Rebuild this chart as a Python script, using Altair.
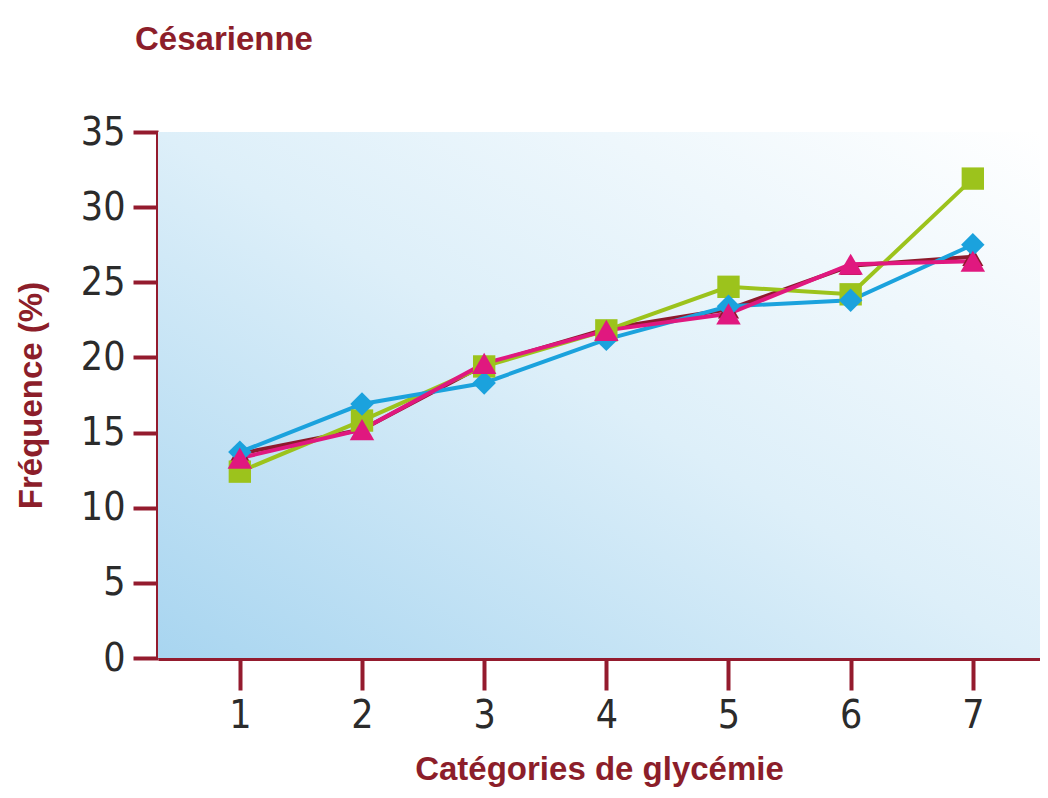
import altair as alt
import pandas as pd

categories = [1, 2, 3, 4, 5, 6, 7]
series_names = ["D", "A", "B", "C"]
serie_d = [13.6, 15.2, 19.5, 21.9, 23.2, 26.1, 26.7]   # dark red triangles (underneath)
serie_a = [12.4, 15.8, 19.4, 21.8, 24.7, 24.2, 31.9]   # lime squares
serie_b = [13.7, 16.9, 18.3, 21.2, 23.4, 23.8, 27.5]   # cyan diamonds
serie_c = [13.3, 15.2, 19.6, 21.8, 22.9, 26.2, 26.4]   # magenta triangles
y_ticks = [0, 5, 10, 15, 20, 25, 30, 35]
x_domain = [0.33, 7.55]
y_domain = [0, 35]

colors = ["#8E1A2C", "#9CC31C", "#1BA2DD", "#E0187F"]
shapes = ["triangle-up", "square", "diamond", "triangle-up"]
sizes = [450, 600, 780, 850]

rows = []
for order, (name, vals) in enumerate(zip(series_names, [serie_d, serie_a, serie_b, serie_c])):
    for c, v in zip(categories, vals):
        rows.append({"cat": c, "val": v, "serie": name, "ord": order})
df = pd.DataFrame(rows)

RED = "#941B2E"
TXT = "#8C1E2A"
LABEL_FONT = "DejaVu Sans Condensed, Liberation Sans, sans-serif"

x_scale = alt.Scale(domain=x_domain, nice=False, zero=False)
y_scale = alt.Scale(domain=y_domain, nice=False)

x_enc = alt.X("cat:Q", scale=x_scale,
              axis=alt.Axis(values=categories, title="Catégories de glycémie", grid=False,
                            format="d"))
y_enc = alt.Y("val:Q", scale=y_scale,
              axis=alt.Axis(values=y_ticks, title="Fréquence (%)", grid=False))
color_enc = alt.Color("serie:N", scale=alt.Scale(domain=series_names, range=colors), legend=None)

gradient = alt.LinearGradient(
    gradient="linear", x1=0, y1=1, x2=1, y2=0,
    stops=[alt.GradientStop(offset=0, color="#A8D5F0"),
           alt.GradientStop(offset=0.5, color="#DDEFF9"),
           alt.GradientStop(offset=1, color="#FFFFFF")],
)
background = alt.Chart(pd.DataFrame({"a": [0]})).mark_rect(color=gradient).encode(
    x=alt.X(datum=x_domain[0], scale=x_scale),
    x2=alt.X2(datum=x_domain[1]),
    y=alt.Y(datum=y_domain[0], scale=y_scale),
    y2=alt.Y2(datum=y_domain[1]),
)

lines = alt.Chart(df).mark_line(strokeWidth=4).encode(
    x=x_enc, y=y_enc, color=color_enc, order="cat:Q"
)
points = alt.Chart(df).mark_point(filled=True, opacity=1).encode(
    x=x_enc, y=y_enc, color=color_enc,
    shape=alt.Shape("serie:N", scale=alt.Scale(domain=series_names, range=shapes), legend=None),
    size=alt.Size("serie:N", scale=alt.Scale(domain=series_names, range=sizes), legend=None),
    order="ord:Q",
)

chart = alt.layer(background, lines, points).properties(
    width=882, height=526,
    autosize=alt.AutoSizeParams(type="none"),
    padding={"left": 150, "top": 124, "right": 0, "bottom": 140},
    title=alt.TitleParams("Césarienne", anchor="start", frame="group", color=TXT, fontSize=33,
                          font="Liberation Sans", fontWeight="bold", dx=-23, offset=56),
).configure_view(
    stroke="transparent",
).configure_axis(
    domainColor=RED, domainWidth=5, tickColor=RED, tickWidth=4,
    labelFont=LABEL_FONT, labelFontSize=39, labelColor="#2B2B2B",
    titleFont="Liberation Sans", titleFontSize=33, titleFontWeight="bold", titleColor=TXT,
).configure_axisY(
    tickSize=25, labelPadding=8, titlePadding=32,
).configure_axisX(
    tickSize=32, labelPadding=6, titlePadding=18,
)

chart.save("out.html", embed_options={"renderer": "svg", "actions": False})
